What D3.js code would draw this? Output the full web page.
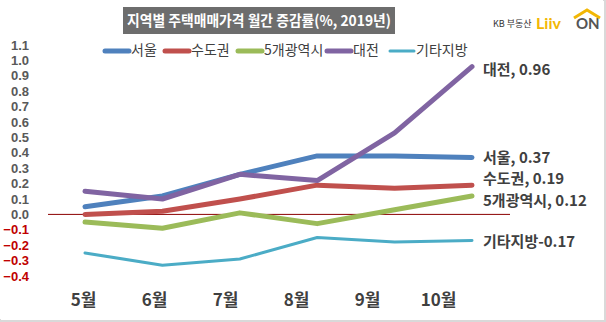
<!DOCTYPE html>
<html>
<head>
<meta charset="utf-8">
<script src="https://cdn.jsdelivr.net/npm/d3@7"></script>
<style>
  body { margin: 0; background: #fff; }
</style>
</head>
<body>
<svg id="chart"></svg>
<script>
// data
const months = ["5월", "6월", "7월", "8월", "9월", "10월"];
const seriesNames = ["서울", "수도권", "5개광역시", "대전", "기타지방"];
const seoul = [0.05, 0.12, 0.26, 0.38, 0.38, 0.37];
const capital = [0.00, 0.02, 0.10, 0.19, 0.17, 0.19];
const metro5 = [-0.05, -0.09, 0.01, -0.06, 0.03, 0.12];
const daejeon = [0.15, 0.10, 0.26, 0.22, 0.53, 0.96];
const others = [-0.25, -0.33, -0.29, -0.15, -0.18, -0.17];
const yTicks = [1.1, 1.0, 0.9, 0.8, 0.7, 0.6, 0.5, 0.4, 0.3, 0.2, 0.1, 0.0, -0.1, -0.2, -0.3, -0.4];
const endLabels = ["서울, 0.37", "수도권, 0.19", "5개광역시, 0.12", "대전, 0.96", "기타지방-0.17"];

const W = 606, H = 322;
const KR = "\"Noto Sans CJK KR\", \"Noto Sans\", sans-serif";
const colors = ["#4f81bd", "#c0504d", "#9bbb59", "#8064a2", "#4bacc6"];
const widths = [5, 5, 5, 5, 3];
const labelDy = [2, -5, 6, 4, 2];

const series = seriesNames.map((name, i) => ({
  name: name,
  values: [seoul, capital, metro5, daejeon, others][i],
  color: colors[i],
  width: widths[i],
  label: endLabels[i],
  dy: labelDy[i]
}));

const svg = d3.select("#chart").attr("width", W).attr("height", H)
  .style("font-family", KR);

// frame shadow on right / bottom
svg.append("rect").attr("x", 0).attr("y", 0).attr("width", W - 1).attr("height", H - 1)
  .attr("fill", "#fff").attr("stroke", "#d9d9d9").attr("stroke-width", 2);
svg.append("rect").attr("x", 0).attr("y", 0).attr("width", W - 3).attr("height", H - 3)
  .attr("fill", "#fff");

const x = d3.scalePoint().domain(months).range([85, 472]);
const xLab = d3.scalePoint().domain(months).range([83, 438]);
const y = d3.scaleLinear().domain([-0.4, 1.1]).range([276, 45]);

// title
svg.append("rect").attr("x", 123).attr("y", 7).attr("width", 272).attr("height", 27).attr("fill", "#6d6d6d");
svg.append("text").attr("x", 127).attr("y", 26)
  .attr("fill", "#fff").attr("font-size", 15).attr("font-weight", "bold")
  .attr("textLength", 264).attr("lengthAdjust", "spacingAndGlyphs")
  .text("지역별 주택매매가격 월간 증감률(%, 2019년)");

// logo
svg.append("text").attr("x", 493).attr("y", 27).attr("font-size", 9).attr("fill", "#333")
  .text("KB 부동산");
svg.append("text").attr("x", 536).attr("y", 29).attr("font-size", 16).attr("font-weight", "bold")
  .attr("fill", "#f2b705").style("font-family", "Lato, sans-serif").text("Liiv");
svg.append("text").attr("x", 576).attr("y", 29).attr("font-size", 15).attr("font-weight", "bold")
  .attr("fill", "#555").style("font-family", "Lato, sans-serif").text("ON");
svg.append("path").attr("d", "M574,18 L587,10 L600,18").attr("fill", "none")
  .attr("stroke", "#f2b705").attr("stroke-width", 3);

// y axis labels
const yAxis = d3.axisLeft(y).tickValues(yTicks).tickSize(0).tickPadding(0)
  .tickFormat(d3.format(".1f"));
const yG = svg.append("g").attr("transform", "translate(29,0)").call(yAxis);
yG.select(".domain").remove();
yG.selectAll("text")
  .attr("font-size", 13).attr("font-weight", "bold")
  .style("font-family", "\"Liberation Sans\", sans-serif")
  .attr("fill", d => d < 0 ? "#c00000" : "#595959");

// x axis labels
const xAxis = d3.axisBottom(xLab).tickSize(0).tickPadding(0);
const xG = svg.append("g").attr("transform", "translate(0,294)").call(xAxis);
xG.select(".domain").remove();
xG.selectAll("text").attr("font-size", 17).attr("font-weight", "bold").attr("fill", "#404040")
  .style("font-family", KR);

// zero line
svg.append("line").attr("x1", 48).attr("x2", 510).attr("y1", y(0)).attr("y2", y(0))
  .attr("stroke", "#8b0000").attr("stroke-width", 1);

// lines
const line = d3.line().x((d, i) => x(months[i])).y(d => y(d));
svg.append("g").selectAll("path").data(series).join("path")
  .attr("d", d => line(d.values))
  .attr("fill", "none")
  .attr("stroke", d => d.color)
  .attr("stroke-width", d => d.width)
  .attr("stroke-linejoin", "round")
  .attr("stroke-linecap", "round");

// end labels
svg.append("g").selectAll("text").data(series).join("text")
  .attr("x", 483)
  .attr("y", d => y(d.values[5]) + d.dy)
  .attr("dominant-baseline", "middle")
  .attr("font-size", 15).attr("font-weight", "bold").attr("fill", "#404040")
  .text(d => d.label);

// legend
const legendX = [105, 165, 238, 327, 390];
const lg = svg.append("g").selectAll("g").data(series).join("g")
  .attr("transform", (d, i) => `translate(${legendX[i]},51)`);
lg.append("line").attr("x1", 0).attr("x2", 24).attr("y1", 0).attr("y2", 0)
  .attr("stroke", d => d.color).attr("stroke-width", d => d.width).attr("stroke-linecap", "round");
lg.append("text").attr("x", 26).attr("y", 0).attr("dominant-baseline", "middle")
  .attr("font-size", 14).attr("fill", "#404040").text(d => d.name);
</script>
</body>
</html>
